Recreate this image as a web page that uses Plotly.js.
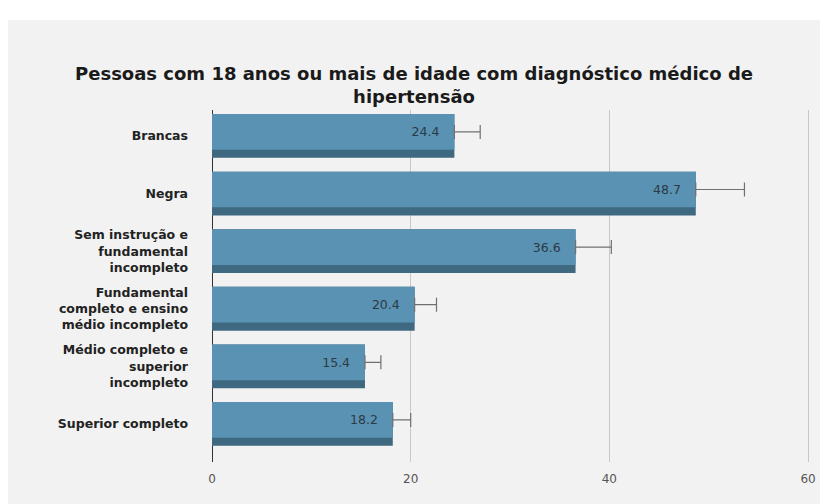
<!DOCTYPE html>
<html>
<head>
<meta charset="utf-8">
<script src="https://cdn.plot.ly/plotly-3.0.1.min.js"></script>
<style>
  html, body { margin: 0; padding: 0; background: #ffffff; }
  #chart { position: absolute; left: 8px; top: 20px; width: 812px; height: 484px; }
</style>
</head>
<body>
<div id="chart"></div>
<script>
const categories = [
  "Brancas",
  "Negra",
  "Sem instrução e<br>fundamental<br>incompleto",
  "Fundamental<br>completo e ensino<br>médio incompleto",
  "Médio completo e<br>superior<br>incompleto",
  "Superior completo"
];
const values = [24.4, 48.7, 36.6, 20.4, 15.4, 18.2];
const errorPlus = [2.6, 4.9, 3.6, 2.2, 1.6, 1.8];
const errorMinus = [0, 0, 0, 0, 0, 0];
const xTicks = [0, 20, 40, 60];

const FONT = "DejaVu Sans, Verdana, sans-serif";

const depth = {
  type: "bar",
  orientation: "h",
  y: categories,
  x: values,
  width: 0.76,
  offset: -0.38,
  marker: { color: "#3f6980", line: { width: 0 } },
  hoverinfo: "skip",
  showlegend: false
};

const face = {
  type: "bar",
  orientation: "h",
  y: categories,
  x: values,
  width: 0.62,
  offset: -0.38,
  marker: { color: "#5a92b3", line: { width: 0 } },
  text: values.map(v => v.toFixed(1) + "\u00a0\u00a0\u00a0"),
  textposition: "inside",
  insidetextanchor: "end",
  textfont: { family: FONT, size: 12.5, color: "#2b3a44" },
  error_x: {
    type: "data",
    symmetric: false,
    array: errorPlus,
    arrayminus: errorMinus,
    color: "#707070",
    thickness: 1.2,
    width: 7
  },
  hoverinfo: "skip",
  showlegend: false
};

const layout = {
  width: 812,
  height: 484,
  paper_bgcolor: "#f2f2f2",
  plot_bgcolor: "#f2f2f2",
  margin: { l: 204, r: 8, t: 90, b: 42 },
  barmode: "overlay",
  hovermode: false,
  title: {
    text: "<b>Pessoas com 18 anos ou mais de idade com diagnóstico médico de<br>hipertensão</b>",
    font: { family: FONT, size: 18, color: "#1a1a1a" },
    x: 0.5,
    xanchor: "center",
    xref: "container",
    y: 0.876,
    yanchor: "middle",
    yref: "container"
  },
  xaxis: {
    range: [0, 60.4],
    tickvals: xTicks,
    ticktext: xTicks.map(String),
    showgrid: true,
    gridcolor: "#c8c8c8",
    gridwidth: 1,
    zeroline: true,
    zerolinecolor: "#333333",
    zerolinewidth: 1,
    showline: false,
    ticks: "",
    ticklabelstandoff: 8,
    tickfont: { family: FONT, size: 12, color: "#555555" },
    fixedrange: true
  },
  yaxis: {
    type: "category",
    range: [5.66, -0.45],
    showgrid: false,
    zeroline: false,
    showline: false,
    ticks: "",
    ticklabelstandoff: 23,
    tickfont: { family: FONT, size: 12.5, color: "#222222", weight: "bold" },
    fixedrange: true
  },
  showlegend: false
};

Plotly.newPlot("chart", [depth, face], layout, { displayModeBar: false, staticPlot: true });
</script>
</body>
</html>
